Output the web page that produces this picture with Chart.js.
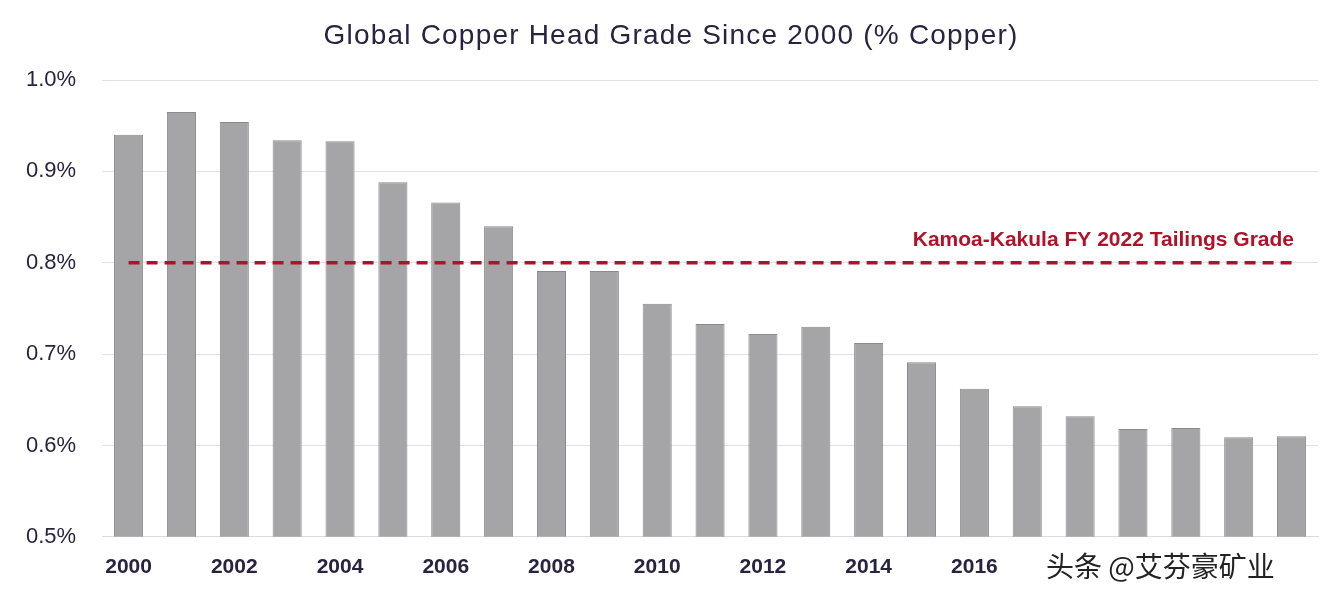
<!DOCTYPE html>
<html><head><meta charset="utf-8">
<script src="https://cdn.jsdelivr.net/npm/chart.js@4"></script>
<style>html,body{margin:0;background:#fff}#w{width:1344px;height:596px;position:relative}</style>
</head><body><div id="w"><canvas id="c"></canvas></div>
<script>
const years = ["2000","2001","2002","2003","2004","2005","2006","2007","2008","2009","2010","2011","2012","2013","2014","2015","2016","2017","2018","2019","2020","2021","2022"];
const tickLabels = ["2000","","2002","","2004","","2006","","2008","","2010","","2012","","2014","","2016","","2018","","2020","","2022"];
const headGrade = [0.940,0.965,0.954,0.934,0.933,0.888,0.866,0.840,0.791,0.791,0.755,0.733,0.722,0.730,0.712,0.691,0.662,0.643,0.632,0.618,0.619,0.609,0.610];
const tailingsGrade = 0.80;
const tailingsLabel = "Kamoa-Kakula FY 2022 Tailings Grade";
const titleText = "Global Copper Head Grade Since 2000 (% Copper)";
const watermark = "头条 @艾芬豪矿业";

const overlay = {
  id:'overlay',
  afterDraw(ch){
    const c=ch.ctx, y=ch.scales.y.getPixelForValue(tailingsGrade);
    c.save();
    c.fillStyle='#2a2340'; c.font='28px "Liberation Sans", Arial, sans-serif';
    c.letterSpacing='1.2px'; c.textAlign='center'; c.textBaseline='middle';
    c.fillText(titleText, 671, 36);
    c.letterSpacing='0px';
    c.fillStyle='#b0122a'; c.font='bold 21px "Liberation Sans", Arial, sans-serif';
    c.textAlign='right'; c.textBaseline='bottom';
    c.fillText(tailingsLabel, 1294, y-12);
    c.fillStyle='#fff'; c.fillRect(1042,548,290,38);
    c.font='28px "Noto Sans CJK SC"'; c.textAlign='left'; c.textBaseline='middle';
    c.fillStyle='#222'; c.fillText(watermark,1046,566);
    c.restore();
  }
};

new Chart(document.getElementById('c'),{
  data:{labels:years,datasets:[
    {type:'line',data:years.map(()=>tailingsGrade),borderColor:'#b0122a',borderWidth:3.5,borderDash:[11,7],pointRadius:0,order:0},
    {type:'bar',data:headGrade,backgroundColor:'#a5a5a7',borderColor:'#8a8a8c',borderWidth:1,categoryPercentage:1,barPercentage:0.55,order:1}
  ]},
  options:{responsive:true,maintainAspectRatio:false,animation:false,
    layout:{padding:{left:0,right:26,top:80,bottom:6}},
    plugins:{legend:{display:false},tooltip:{enabled:false},title:{display:false}},
    scales:{
      x:{grid:{display:false},border:{color:'#d8dde2'},
        ticks:{autoSkip:false,maxRotation:0,color:'#2a2340',font:{family:'"Liberation Sans", Arial, sans-serif',size:21,weight:'bold'},padding:10,callback:(v,i)=>tickLabels[i]}},
      y:{min:0.5,max:1.0,grid:{color:'#dde3e8',drawTicks:false},border:{display:false},
        ticks:{stepSize:0.1,color:'#2a2340',padding:26,font:{family:'"Liberation Sans", Arial, sans-serif',size:22},callback:v=>v.toFixed(1)+'%'}}
    }
  },
  plugins:[overlay]
});
</script></body></html>
